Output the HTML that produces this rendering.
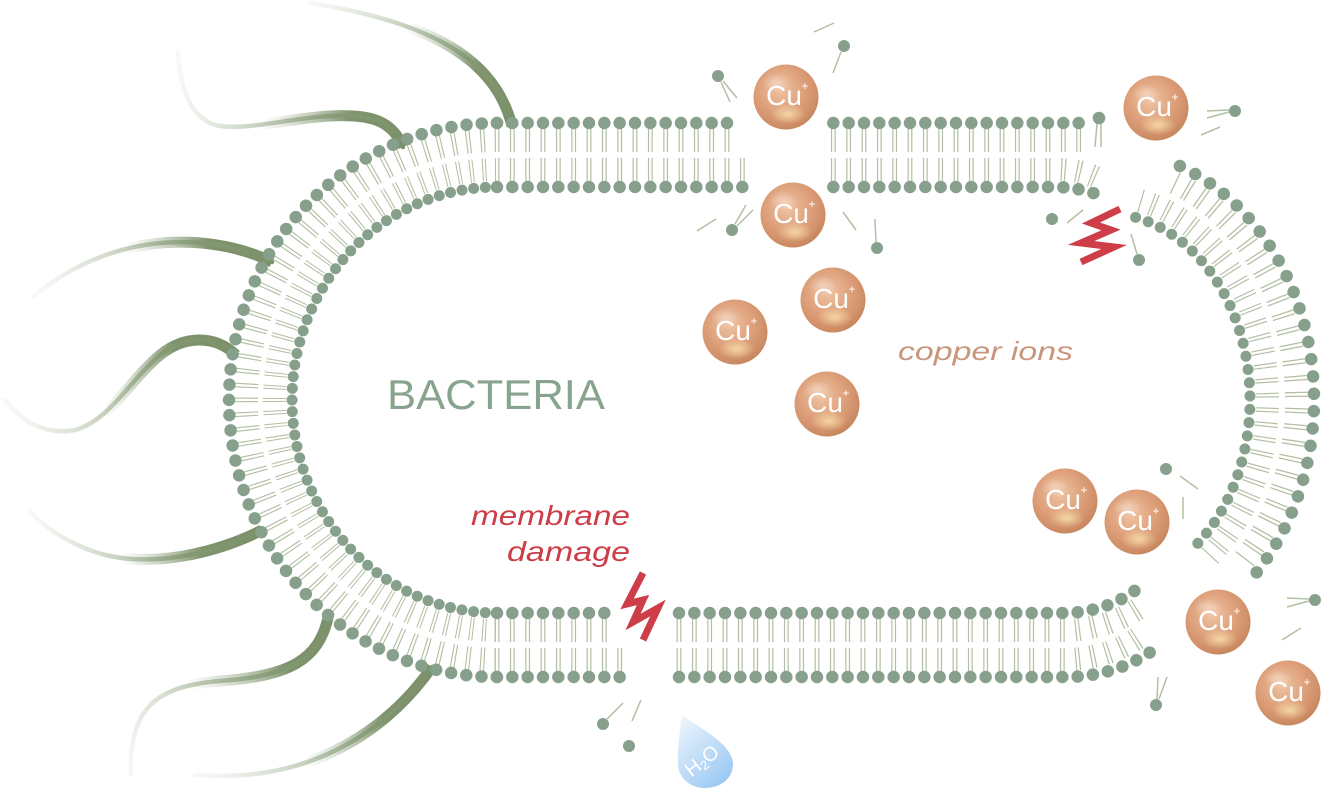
<!DOCTYPE html>
<html><head><meta charset="utf-8"><style>
html,body{margin:0;padding:0;background:#fff;}
svg{display:block;}
.h{fill:none;stroke:#86a08b;stroke-linecap:round;stroke-width:12.5;}
.hi{stroke-width:11;}
.t{fill:none;stroke:#b3bfa2;stroke-width:23;}
.s{stroke-dasharray:0 15.333;}
.st{stroke-dasharray:1.2 2.4 1.2 10.533;stroke-dashoffset:-0.6;}
.a{stroke-dasharray:0 1;}
.at{stroke-dasharray:0.08 0.16 0.08 0.68;stroke-dashoffset:0.16;}
.fl{fill:none;stroke-width:4.5;stroke-linecap:round;}
.fk{fill:none;stroke-width:11;stroke-linecap:butt;}
.ln{stroke:#b3bfa2;stroke-width:1.5;}
.hd{fill:#86a08b;}
.cu{font-family:"Liberation Sans",sans-serif;font-size:28px;fill:#fff;text-anchor:middle;}
.cp{font-family:"Liberation Sans",sans-serif;font-size:12px;fill:#fff;text-anchor:middle;}
.bolt{fill:none;stroke:#cd3e48;stroke-width:7;stroke-linejoin:miter;stroke-miterlimit:8;}
</style></head><body>
<svg width="1341" height="795" viewBox="0 0 1341 795" xmlns="http://www.w3.org/2000/svg">
<defs>
<radialGradient id="cu" cx="0.42" cy="0.38" r="0.62">
<stop offset="0" stop-color="#efc4a3"/><stop offset="0.55" stop-color="#dea17c"/><stop offset="0.9" stop-color="#cf8e67"/><stop offset="1" stop-color="#c7885f"/>
</radialGradient>
<radialGradient id="gl"><stop offset="0" stop-color="#f7dcaa" stop-opacity="0.9"/><stop offset="1" stop-color="#f7dcaa" stop-opacity="0"/></radialGradient>
<radialGradient id="hl"><stop offset="0" stop-color="#f6dccb" stop-opacity="0.7"/><stop offset="1" stop-color="#f6dccb" stop-opacity="0"/></radialGradient>
<linearGradient id="gA"><stop offset="0" stop-color="#7c9169"/><stop offset="0.3" stop-color="#849973"/><stop offset="1" stop-color="#e4ebe0" stop-opacity="0.3"/></linearGradient>
<linearGradient id="gB"><stop offset="0" stop-color="#7c9169"/><stop offset="0.25" stop-color="#7e936c"/><stop offset="0.6" stop-color="#a9b89c" stop-opacity="0"/></linearGradient>
<linearGradient id="f1" href="#gA" gradientUnits="userSpaceOnUse" x1="512" y1="124" x2="310" y2="3"/>
<linearGradient id="f2" href="#gA" gradientUnits="userSpaceOnUse" x1="403" y1="147" x2="178" y2="70"/>
<linearGradient id="f3" href="#gA" gradientUnits="userSpaceOnUse" x1="272" y1="262" x2="35" y2="295"/>
<linearGradient id="f4" href="#gA" gradientUnits="userSpaceOnUse" x1="236" y1="355" x2="5" y2="400"/>
<linearGradient id="f5" href="#gA" gradientUnits="userSpaceOnUse" x1="262" y1="530" x2="30" y2="512"/>
<linearGradient id="f6" href="#gA" gradientUnits="userSpaceOnUse" x1="328" y1="618" x2="131" y2="775"/>
<linearGradient id="f7" href="#gA" gradientUnits="userSpaceOnUse" x1="432" y1="667" x2="195" y2="775"/>
<linearGradient id="k1" href="#gB" gradientUnits="userSpaceOnUse" x1="512" y1="124" x2="310" y2="3"/>
<linearGradient id="k2" href="#gB" gradientUnits="userSpaceOnUse" x1="403" y1="147" x2="178" y2="70"/>
<linearGradient id="k3" href="#gB" gradientUnits="userSpaceOnUse" x1="272" y1="262" x2="35" y2="295"/>
<linearGradient id="k4" href="#gB" gradientUnits="userSpaceOnUse" x1="236" y1="355" x2="5" y2="400"/>
<linearGradient id="k5" href="#gB" gradientUnits="userSpaceOnUse" x1="262" y1="530" x2="30" y2="512"/>
<linearGradient id="k6" href="#gB" gradientUnits="userSpaceOnUse" x1="328" y1="618" x2="131" y2="775"/>
<linearGradient id="k7" href="#gB" gradientUnits="userSpaceOnUse" x1="432" y1="667" x2="195" y2="775"/>
<linearGradient id="drop" x1="0.1" y1="0" x2="0.8" y2="1"><stop offset="0" stop-color="#eef6fd"/><stop offset="1" stop-color="#98c7f2"/></linearGradient>
</defs>

<!-- flagella -->
<g>
<path class="fk" stroke="url(#k1)" d="M512 126C498 70 450 25 310 3"/>
<path class="fk" stroke="url(#k2)" d="M403 147C392 120 370 114 330 116C290 118 250 130 220 126C195 122 180 95 178 52"/>
<path class="fk" stroke="url(#k3)" d="M272 262C220 236 120 225 34 296"/>
<path class="fk" stroke="url(#k4)" d="M236 355C215 335 185 335 160 355C130 380 110 420 75 430C45 436 20 420 5 400"/>
<path class="fk" stroke="url(#k5)" d="M262 530C220 552 150 570 95 552C65 542 45 527 30 512"/>
<path class="fk" stroke="url(#k6)" d="M328 618C318 660 290 676 220 681C160 686 128 705 131 775"/>
<path class="fk" stroke="url(#k7)" d="M432 667C395 720 320 785 195 775"/>
<path class="fl" stroke="url(#f1)" d="M512 126C498 70 450 25 310 3"/>
<path class="fl" stroke="url(#f2)" d="M403 147C392 120 370 114 330 116C290 118 250 130 220 126C195 122 180 95 178 52"/>
<path class="fl" stroke="url(#f3)" d="M272 262C220 236 120 225 34 296"/>
<path class="fl" stroke="url(#f4)" d="M236 355C215 335 185 335 160 355C130 380 110 420 75 430C45 436 20 420 5 400"/>
<path class="fl" stroke="url(#f5)" d="M262 530C220 552 150 570 95 552C65 542 45 527 30 512"/>
<path class="fl" stroke="url(#f6)" d="M328 618C318 660 290 676 220 681C160 686 128 705 131 775"/>
<path class="fl" stroke="url(#f7)" d="M432 667C395 720 320 785 195 775"/>
</g>

<!-- main body tails -->
<path class="t st" d="M730 140.5H497"/>
<path class="t st" d="M745.33 169.5H497"/>
<path class="t at" pathLength="56" d="M497 140.5A250.5 259.5 0 0 0 497 659.5"/>
<path class="t at" pathLength="56" d="M497 169.5A222.5 230.5 0 0 0 497 630.5"/>
<path class="t st" d="M494 659.5H623"/>
<path class="t st" d="M494 630.5H608"/>
<!-- top right tails -->
<path class="t st" d="M830.33 140.5H1082"/>
<path class="t st" d="M830.33 169.5H1058Q1080 170 1097 178"/>
<line class="ln" x1="1097" y1="124" x2="1095" y2="147"/><line class="ln" x1="1101" y1="124" x2="1101" y2="147"/>
<!-- bottom right tails -->
<path class="t st" d="M676 630.5H1070Q1114 627 1146 603"/>
<path class="t st" d="M676 659.5H1068Q1110 658 1141 636"/>
<!-- right arc tails -->
<path class="t at" pathLength="27" d="M1173.6 182.3A192.5 233.5 0 0 1 1243.9 560.4"/>
<path class="t at" pathLength="29" d="M1139.4 200.3A163.5 204.5 0 0 1 1208.9 556.9"/>

<!-- heads -->
<path class="h s" d="M727 123H496.5"/>
<path class="h s" d="M742.33 187H496.5"/>
<path class="h a" pathLength="56" d="M497 123A268 277 0 0 0 497 677"/>
<path class="h hi a" pathLength="56" d="M497 187A205 213 0 0 0 497 613"/>
<path class="h s" d="M497 677H625"/>
<path class="h s" d="M497 613H610"/>
<path class="h s" d="M833.33 123H1080"/>
<circle class="hd" cx="1099" cy="118" r="6.3"/>
<path class="h s" d="M833.33 187H1058Q1082 188 1101 196"/>
<path class="h s" d="M679 613H1070Q1110 610 1137 589"/>
<path class="h s" d="M679 677H1068Q1115 676 1152 651"/>
<path class="h a" pathLength="27" d="M1179.9 166A210 251 0 0 1 1256.6 572.5"/>
<path class="h hi a" pathLength="29" d="M1135.6 217.4A146 187 0 0 1 1197.7 543.4"/>

<!-- loose lipids -->
<g>
<line class="ln" x1="814" y1="32" x2="834" y2="23"/>
<circle class="hd" cx="844" cy="46" r="6"/><line class="ln" x1="841" y1="52" x2="833" y2="73"/>
<circle class="hd" cx="718" cy="76" r="6"/><line class="ln" x1="721" y1="82" x2="730" y2="102"/><line class="ln" x1="723" y1="81" x2="737" y2="98"/>
<line class="ln" x1="697" y1="231" x2="716" y2="219"/>
<circle class="hd" cx="732" cy="230" r="6"/><line class="ln" x1="735" y1="224" x2="746" y2="205"/><line class="ln" x1="737" y1="226" x2="753" y2="210"/>
<line class="ln" x1="843" y1="212" x2="856" y2="230"/>
<circle class="hd" cx="877" cy="248" r="6"/><line class="ln" x1="876" y1="242" x2="875" y2="219"/>
<circle class="hd" cx="1052" cy="219" r="6"/>
<line class="ln" x1="1067" y1="223" x2="1083" y2="210"/>
<circle class="hd" cx="1139" cy="260" r="6"/><line class="ln" x1="1137" y1="254" x2="1131" y2="234"/>
<circle class="hd" cx="1235" cy="111" r="6"/><line class="ln" x1="1229" y1="112" x2="1207" y2="118"/><line class="ln" x1="1229" y1="110" x2="1207" y2="111"/>
<line class="ln" x1="1201" y1="135" x2="1220" y2="127"/>
<circle class="hd" cx="1166" cy="469" r="6"/>
<line class="ln" x1="1180" y1="476" x2="1198" y2="489"/>
<line class="ln" x1="1183" y1="497" x2="1183" y2="519"/>
<circle class="hd" cx="1315" cy="600" r="6"/><line class="ln" x1="1309" y1="599" x2="1287" y2="598"/><line class="ln" x1="1309" y1="601" x2="1287" y2="607"/>
<line class="ln" x1="1282" y1="640" x2="1301" y2="628"/>
<circle class="hd" cx="1156" cy="705" r="6"/><line class="ln" x1="1157" y1="699" x2="1158" y2="677"/><line class="ln" x1="1159" y1="699" x2="1167" y2="677"/>
<circle class="hd" cx="603" cy="724" r="6"/><line class="ln" x1="607" y1="719" x2="623" y2="703"/>
<line class="ln" x1="641" y1="700" x2="632" y2="721"/>
<circle class="hd" cx="629" cy="746" r="6"/>
</g>

<!-- copper ions -->
<g transform="translate(786,97)"><circle r="32.5" fill="url(#cu)"/><ellipse cx="-10" cy="-14" rx="14" ry="10" fill="url(#hl)"/><ellipse cx="2" cy="17" rx="18" ry="10" fill="url(#gl)"/><text x="-2" y="8" class="cu">Cu</text><text x="19" y="-7" class="cp">+</text></g>
<g transform="translate(793,215)"><circle r="32.5" fill="url(#cu)"/><ellipse cx="-10" cy="-14" rx="14" ry="10" fill="url(#hl)"/><ellipse cx="2" cy="17" rx="18" ry="10" fill="url(#gl)"/><text x="-2" y="8" class="cu">Cu</text><text x="19" y="-7" class="cp">+</text></g>
<g transform="translate(833,300)"><circle r="32.5" fill="url(#cu)"/><ellipse cx="-10" cy="-14" rx="14" ry="10" fill="url(#hl)"/><ellipse cx="2" cy="17" rx="18" ry="10" fill="url(#gl)"/><text x="-2" y="8" class="cu">Cu</text><text x="19" y="-7" class="cp">+</text></g>
<g transform="translate(735,332)"><circle r="32.5" fill="url(#cu)"/><ellipse cx="-10" cy="-14" rx="14" ry="10" fill="url(#hl)"/><ellipse cx="2" cy="17" rx="18" ry="10" fill="url(#gl)"/><text x="-2" y="8" class="cu">Cu</text><text x="19" y="-7" class="cp">+</text></g>
<g transform="translate(827,404)"><circle r="32.5" fill="url(#cu)"/><ellipse cx="-10" cy="-14" rx="14" ry="10" fill="url(#hl)"/><ellipse cx="2" cy="17" rx="18" ry="10" fill="url(#gl)"/><text x="-2" y="8" class="cu">Cu</text><text x="19" y="-7" class="cp">+</text></g>
<g transform="translate(1156,108)"><circle r="32.5" fill="url(#cu)"/><ellipse cx="-10" cy="-14" rx="14" ry="10" fill="url(#hl)"/><ellipse cx="2" cy="17" rx="18" ry="10" fill="url(#gl)"/><text x="-2" y="8" class="cu">Cu</text><text x="19" y="-7" class="cp">+</text></g>
<g transform="translate(1065,501)"><circle r="32.5" fill="url(#cu)"/><ellipse cx="-10" cy="-14" rx="14" ry="10" fill="url(#hl)"/><ellipse cx="2" cy="17" rx="18" ry="10" fill="url(#gl)"/><text x="-2" y="8" class="cu">Cu</text><text x="19" y="-7" class="cp">+</text></g>
<g transform="translate(1137,522)"><circle r="32.5" fill="url(#cu)"/><ellipse cx="-10" cy="-14" rx="14" ry="10" fill="url(#hl)"/><ellipse cx="2" cy="17" rx="18" ry="10" fill="url(#gl)"/><text x="-2" y="8" class="cu">Cu</text><text x="19" y="-7" class="cp">+</text></g>
<g transform="translate(1218,622)"><circle r="32.5" fill="url(#cu)"/><ellipse cx="-10" cy="-14" rx="14" ry="10" fill="url(#hl)"/><ellipse cx="2" cy="17" rx="18" ry="10" fill="url(#gl)"/><text x="-2" y="8" class="cu">Cu</text><text x="19" y="-7" class="cp">+</text></g>
<g transform="translate(1288,693)"><circle r="32.5" fill="url(#cu)"/><ellipse cx="-10" cy="-14" rx="14" ry="10" fill="url(#hl)"/><ellipse cx="2" cy="17" rx="18" ry="10" fill="url(#gl)"/><text x="-2" y="8" class="cu">Cu</text><text x="19" y="-7" class="cp">+</text></g>

<!-- bolts -->
<polyline class="bolt" points="643,573 627,604 643,600 633,622 658,608 643,640"/>
<polyline class="bolt" points="1120,209 1091,223 1111,230 1081,243 1114,247 1081,262"/>

<!-- water drop -->
<path d="M682 715C700 728 734 745 733 765C732 781 718 788 705 788C690 788 679 778 678 765C677 748 680 730 682 715Z" fill="url(#drop)"/>
<text transform="translate(706,766) rotate(-38)" text-anchor="middle" font-family="Liberation Sans, sans-serif" font-size="20" fill="#fff">H<tspan font-size="13" dy="3">2</tspan><tspan dy="-3">O</tspan></text>

<!-- labels -->
<text x="387" y="409" font-family="Liberation Sans, sans-serif" font-size="42" fill="#88a48f" textLength="218" lengthAdjust="spacingAndGlyphs">BACTERIA</text>
<text x="898" y="360" font-family="Liberation Sans, sans-serif" font-style="italic" font-size="26" fill="#c9967c" textLength="175" lengthAdjust="spacingAndGlyphs">copper ions</text>
<text x="471" y="525" font-family="Liberation Sans, sans-serif" font-style="italic" font-size="28" fill="#cc3d47" textLength="159" lengthAdjust="spacingAndGlyphs">membrane</text>
<text x="507" y="561" font-family="Liberation Sans, sans-serif" font-style="italic" font-size="28" fill="#cc3d47" textLength="123" lengthAdjust="spacingAndGlyphs">damage</text>
</svg>
</body></html>
